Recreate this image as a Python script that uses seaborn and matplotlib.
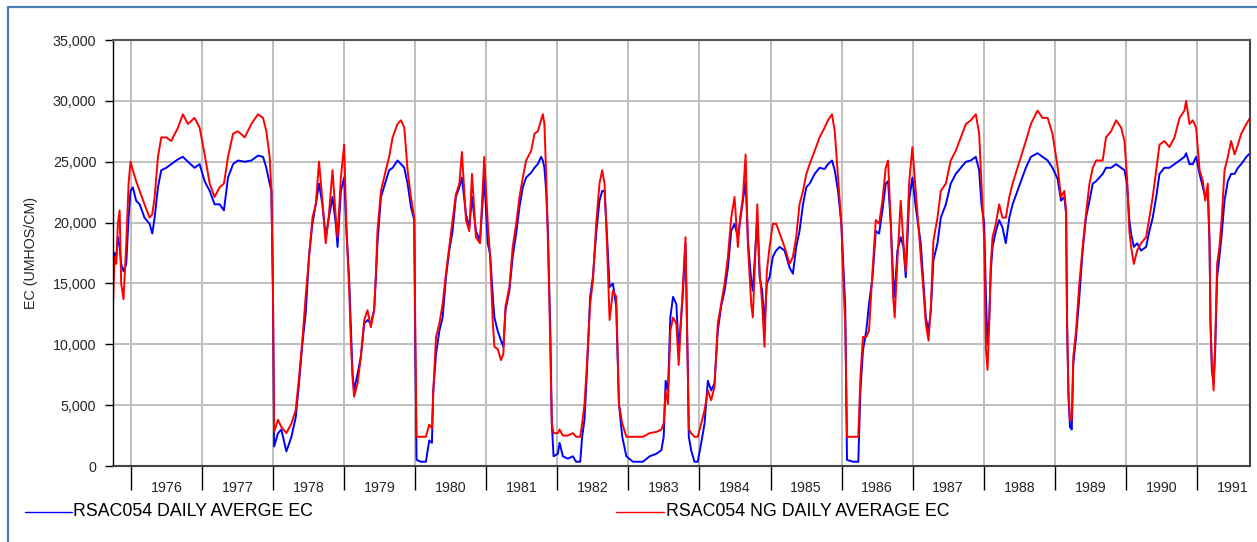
import matplotlib
matplotlib.use("Agg")
import matplotlib.pyplot as plt
import matplotlib.dates as mdates
from matplotlib.lines import Line2D
from matplotlib.ticker import MultipleLocator, FuncFormatter, FixedLocator
import pandas as pd
import seaborn as sns

# Sample dates shared by both series
dates = [
    "1975-10-01", "1975-10-09", "1975-10-18", "1975-10-26", "1975-11-04", "1975-11-12",
    "1975-11-24", "1975-12-08", "1975-12-20", "1975-12-30",
    "1976-01-11", "1976-01-28", "1976-02-15", "1976-03-11", "1976-04-06", "1976-04-20",
    "1976-05-02", "1976-05-19", "1976-06-05", "1976-07-01", "1976-07-26", "1976-08-30",
    "1976-09-24", "1976-10-20", "1976-11-23", "1976-12-19",
    "1977-01-14", "1977-02-09", "1977-03-06", "1977-04-01", "1977-04-23", "1977-05-14",
    "1977-06-09", "1977-07-04", "1977-08-08", "1977-09-11", "1977-10-15", "1977-11-10",
    "1977-11-27", "1977-12-14", "1977-12-23", "1977-12-31",
    "1978-01-06", "1978-01-26", "1978-02-12", "1978-03-10", "1978-04-05", "1978-04-27",
    "1978-05-14", "1978-05-31", "1978-06-17", "1978-07-05", "1978-07-22", "1978-08-08",
    "1978-08-25", "1978-09-11", "1978-09-28", "1978-10-12", "1978-11-02", "1978-11-19",
    "1978-11-28", "1978-12-15",
    "1979-01-01", "1979-01-13", "1979-01-27", "1979-02-04", "1979-02-13", "1979-02-21",
    "1979-03-11", "1979-03-28", "1979-04-14", "1979-05-01", "1979-05-18", "1979-06-04",
    "1979-06-13", "1979-06-21", "1979-07-09", "1979-08-03", "1979-08-20", "1979-09-07",
    "1979-10-02", "1979-10-20", "1979-11-06", "1979-11-23", "1979-12-10", "1979-12-27",
    "1980-01-01", "1980-01-08", "1980-01-30", "1980-02-25", "1980-03-13", "1980-03-27",
    "1980-04-03", "1980-04-17", "1980-05-04", "1980-05-21", "1980-06-07", "1980-06-24",
    "1980-07-11", "1980-07-28", "1980-08-15", "1980-08-28", "1980-09-18", "1980-10-05",
    "1980-10-19", "1980-11-08", "1980-11-29", "1980-12-21",
    "1981-01-08", "1981-01-20", "1981-02-03", "1981-02-11", "1981-02-28", "1981-03-17",
    "1981-03-29", "1981-04-09", "1981-04-29", "1981-05-16", "1981-06-03", "1981-06-20",
    "1981-07-07", "1981-07-24", "1981-08-19", "1981-09-05", "1981-09-22", "1981-10-09",
    "1981-10-18", "1981-10-26", "1981-11-04", "1981-11-13", "1981-11-21", "1981-11-26",
    "1981-12-03", "1981-12-12",
    "1982-01-03", "1982-01-12", "1982-01-29", "1982-02-23", "1982-03-21", "1982-04-07",
    "1982-04-28", "1982-05-08", "1982-05-20", "1982-06-01", "1982-06-18", "1982-07-02",
    "1982-07-19", "1982-08-05", "1982-08-19", "1982-08-31", "1982-09-12", "1982-09-26",
    "1982-10-13", "1982-10-30", "1982-11-13", "1982-11-30", "1982-12-21",
    "1983-01-24", "1983-03-16", "1983-04-20", "1983-05-24", "1983-06-19", "1983-07-01",
    "1983-07-11", "1983-07-23", "1983-08-04", "1983-08-18", "1983-09-04", "1983-09-16",
    "1983-10-07", "1983-10-21", "1983-11-02", "1983-11-07", "1983-11-19", "1983-12-06",
    "1983-12-23",
    "1984-01-10", "1984-01-27", "1984-02-13", "1984-03-01", "1984-03-18", "1984-04-04",
    "1984-04-21", "1984-05-09", "1984-05-26", "1984-06-12", "1984-06-29", "1984-07-16",
    "1984-07-28", "1984-08-11", "1984-08-25", "1984-09-06", "1984-09-23", "1984-10-01",
    "1984-10-15", "1984-10-24", "1984-11-05", "1984-11-18", "1984-11-30", "1984-12-12",
    "1984-12-26",
    "1985-01-12", "1985-01-29", "1985-02-16", "1985-03-13", "1985-04-08", "1985-04-25",
    "1985-05-12", "1985-05-29", "1985-06-16", "1985-07-03", "1985-07-20", "1985-08-15",
    "1985-09-09", "1985-10-05", "1985-10-22", "1985-11-12", "1985-11-26", "1985-12-13",
    "1985-12-30",
    "1986-01-11", "1986-01-19", "1986-01-28", "1986-02-28", "1986-03-27", "1986-04-07",
    "1986-04-20", "1986-05-07", "1986-05-21", "1986-06-08", "1986-06-25", "1986-07-12",
    "1986-07-29", "1986-08-15", "1986-08-27", "1986-09-10", "1986-09-22", "1986-09-30",
    "1986-10-14", "1986-10-31", "1986-11-14", "1986-11-26", "1986-12-13", "1986-12-30",
    "1987-01-16", "1987-02-11", "1987-02-25", "1987-03-09", "1987-03-23", "1987-04-04",
    "1987-04-17", "1987-05-08", "1987-05-25", "1987-06-20", "1987-07-15", "1987-08-10",
    "1987-09-05", "1987-10-01", "1987-10-26", "1987-11-21", "1987-12-08", "1987-12-20",
    "1988-01-03", "1988-01-12", "1988-01-20", "1988-01-29", "1988-02-06", "1988-02-15",
    "1988-03-03", "1988-03-20", "1988-04-06", "1988-04-23", "1988-05-11", "1988-05-28",
    "1988-06-22", "1988-07-10", "1988-08-04", "1988-08-30", "1988-10-03", "1988-10-29",
    "1988-11-24", "1988-12-19",
    "1989-01-14", "1989-02-01", "1989-02-18", "1989-02-27", "1989-03-04", "1989-03-11",
    "1989-03-19", "1989-03-28", "1989-04-05", "1989-04-19", "1989-05-06", "1989-05-23",
    "1989-06-09", "1989-06-27", "1989-07-14", "1989-07-31", "1989-08-17", "1989-09-03",
    "1989-09-20", "1989-10-16", "1989-11-11", "1989-12-07", "1989-12-24",
    "1990-01-06", "1990-01-18", "1990-01-27", "1990-02-10", "1990-02-27", "1990-03-19",
    "1990-04-14", "1990-05-01", "1990-05-18", "1990-06-05", "1990-06-22", "1990-07-17",
    "1990-08-12", "1990-09-07", "1990-10-03", "1990-10-28", "1990-11-06", "1990-11-23",
    "1990-12-10", "1990-12-27",
    "1991-01-14", "1991-01-31", "1991-02-12", "1991-02-25", "1991-03-06", "1991-03-11",
    "1991-03-18", "1991-03-27", "1991-04-04", "1991-04-14", "1991-04-26", "1991-05-08",
    "1991-05-22", "1991-06-08", "1991-06-25", "1991-07-13", "1991-07-30", "1991-08-16",
    "1991-09-11", "1991-09-30",
]

# RSAC054 daily average EC (umhos/cm)
daily_ec = [
    17000, 17500, 17200, 18800, 18000, 16600, 16000, 16600, 20400, 22600,
    22900, 21800, 21500, 20400, 19900, 19100, 20400, 22900, 24300, 24500, 24800, 25200,
    25400, 25000, 24500, 24800,
    23400, 22600, 21500, 21500, 21000, 23700, 24800, 25100, 25000, 25100, 25500, 25400,
    24500, 23200, 22600, 14400,
    1600, 2700, 3000, 1200, 2400, 4000, 6800, 10000, 12500, 17400, 19900, 21500,
    23200, 21500, 18800, 20200, 22100, 19900, 18000, 22600,
    23700, 19300, 15200, 11700, 7600, 6200, 7600, 9000, 11700, 12000, 11700, 12800,
    15500, 18300, 22100, 23400, 24300, 24500, 25100, 24800, 24500, 23200, 21300, 20200,
    10000, 500, 350, 350, 2100, 1900, 6200, 9200, 11100, 12200, 15500, 17700,
    19300, 22100, 22900, 23700, 20700, 19600, 22100, 19300, 18500, 23700,
    18300, 17400, 13900, 12200, 11100, 10300, 9800, 12800, 14400, 17200, 19100, 21300,
    22900, 23700, 24100, 24500, 24800, 25400, 25100, 24500, 22600, 19300, 13900, 10600,
    3500, 800,
    1000, 1900, 800, 600, 800, 350, 350, 2400, 3800, 7600, 13900, 15500,
    19100, 21800, 22600, 22600, 19100, 14700, 15000, 13100, 5100, 2400, 800,
    350, 350, 800, 1000, 1300, 2400, 7000, 6200, 12200, 13900, 13300, 9500,
    14000, 18300, 8000, 2400, 1300, 350, 350,
    1900, 3500, 7000, 6200, 6800, 11100, 13100, 14400, 16300, 19300, 19900, 18800,
    20200, 21800, 23400, 18500, 15200, 14400, 18000, 20400, 15500, 14400, 11700, 15000,
    15500,
    17200, 17700, 18000, 17700, 16300, 15800, 18000, 19300, 21500, 22900, 23200, 24000,
    24500, 24400, 24800, 25100, 24300, 22600, 19900,
    15800, 13100, 500, 350, 350, 6200, 9500, 11100, 13300, 15500, 19300, 19100,
    21000, 23200, 23400, 19900, 15500, 13900, 17700, 18800, 18000, 15500, 21800, 23700,
    21300, 18300, 15000, 12200, 11100, 12800, 16900, 18300, 20400, 21500, 23200, 24000,
    24500, 25000, 25100, 25400, 24300, 21500,
    19900, 13900, 10000, 12200, 16000, 18000, 19300, 20200, 19600, 18300, 20400, 21500,
    22600, 23400, 24500, 25400, 25700, 25400, 25100, 24500,
    23600, 21800, 22100, 20700, 11700, 5700, 3200, 3000, 8400, 10600, 13900, 17700,
    20400, 21800, 23200, 23400, 23700, 24000, 24500, 24500, 24800, 24500, 24300,
    23200, 20200, 19100, 18000, 18300, 17700, 18000, 19300, 20400, 22100, 24000, 24500,
    24500, 24800, 25100, 25400, 25700, 24800, 24800, 25400,
    24000, 22900, 22100, 22600, 18300, 11700, 7900, 6800, 9500, 15500, 17200, 19100,
    21800, 23400, 24000, 24000, 24500, 24800, 25400, 25700,
]

# RSAC054 NG daily average EC (umhos/cm)
ng_daily_ec = [
    13300, 17200, 16600, 19900, 21000, 15000, 13700, 18200, 23200, 25000,
    24300, 23400, 22600, 21500, 20400, 20700, 22100, 25400, 27000, 27000, 26700, 27800,
    28900, 28100, 28600, 27800,
    25600, 23200, 22100, 22900, 23200, 25400, 27300, 27500, 27000, 28100, 28900, 28600,
    27500, 25400, 22600, 14400,
    2800, 3800, 3200, 2700, 3500, 4600, 7300, 10300, 13900, 17200, 20400, 21500,
    25000, 21800, 18300, 20200, 24300, 20400, 18800, 23700,
    26400, 19300, 14400, 10300, 7300, 5700, 6800, 9000, 12000, 12800, 11400, 12800,
    15800, 19300, 22600, 24300, 25400, 27000, 28100, 28400, 27800, 24300, 22100, 20400,
    12000, 2400, 2400, 2400, 3400, 3100, 6200, 10600, 11700, 13300, 15800, 18000,
    20200, 22300, 23200, 25800, 20200, 19300, 24000, 18800, 18300, 25400,
    19900, 17200, 11700, 9800, 9600, 8700, 9200, 13100, 14700, 18000, 19900, 22100,
    23700, 25100, 25900, 27300, 27500, 28400, 28900, 28100, 24000, 18500, 13100, 9000,
    3500, 2700,
    2700, 3000, 2500, 2500, 2700, 2400, 2400, 3500, 5100, 8200, 13300, 15200,
    19900, 23200, 24300, 23200, 18500, 12000, 14400, 13900, 5100, 3500, 2400,
    2400, 2400, 2700, 2800, 3000, 3500, 6200, 5100, 11100, 12200, 11700, 8300,
    14700, 18800, 8000, 3000, 2700, 2400, 2400,
    3500, 4600, 6200, 5400, 6500, 11700, 13300, 15000, 17200, 20400, 22100, 18000,
    20400, 22100, 25600, 18000, 13300, 12200, 18000, 21500, 16000, 13300, 9800, 16000,
    18000,
    19900, 19900, 19100, 18000, 16600, 17200, 18800, 21500, 22600, 24000, 24800, 25900,
    27000, 27800, 28400, 28900, 27500, 23700, 19900,
    14400, 11700, 2400, 2400, 2400, 7300, 10600, 10600, 11100, 16000, 20200, 19900,
    21800, 24500, 25100, 19900, 13900, 12200, 16900, 21800, 18300, 16000, 23200, 26200,
    22600, 17200, 14400, 11700, 10300, 13100, 18500, 20400, 22600, 23200, 25100, 25900,
    27000, 28100, 28400, 28900, 27300, 23200,
    18500, 9600, 7900, 11700, 16600, 18800, 19900, 21500, 20400, 20400, 22100, 23200,
    24500, 25400, 26700, 28100, 29200, 28600, 28600, 27300,
    24600, 22100, 22600, 21000, 11700, 6200, 3800, 3800, 9000, 11100, 15000, 18000,
    20700, 23200, 24500, 25100, 25100, 25100, 27000, 27500, 28400, 27800, 26700,
    23700, 19300, 18000, 16600, 17700, 18300, 18800, 20400, 22100, 24300, 26400, 26700,
    26200, 27000, 28600, 29200, 30000, 28100, 28400, 27800,
    24300, 23400, 21800, 23200, 18500, 11700, 8400, 6200, 10000, 16600, 18000, 20400,
    24300, 25400, 26700, 25600, 26400, 27300, 28100, 28600,
]

series_names = ["RSAC054 DAILY AVERGE EC", "RSAC054 NG DAILY AVERAGE EC"]
series_colors = ["#0000FF", "#FF0000"]
year_labels = ["1976", "1977", "1978", "1979", "1980", "1981", "1982", "1983",
               "1984", "1985", "1986", "1987", "1988", "1989", "1990", "1991"]
y_label = "EC (UMHOS/CM)"

W, H = 1257, 542
sns.set_style("white")
plt.rcParams["font.family"] = ["Liberation Sans", "DejaVu Sans"]

fig = plt.figure(figsize=(W / 100, H / 100), dpi=100)
ax = fig.add_axes([113 / W, 1 - 466 / H, (1250 - 113) / W, (466 - 40) / H])

frames = []
for name, values in zip(series_names, [daily_ec, ng_daily_ec]):
    frames.append(pd.DataFrame({"date": pd.to_datetime(dates), "ec": values, "series": name}))
df = pd.concat(frames, ignore_index=True)

sns.lineplot(data=df, x="date", y="ec", hue="series", hue_order=series_names,
             palette=series_colors, estimator=None, linewidth=1.4, legend=False, ax=ax)

ax.set_xlim(pd.Timestamp("1975-10-01"), pd.Timestamp("1991-09-30"))
ax.set_ylim(0, 35000)

# Y axis
ax.yaxis.set_major_locator(MultipleLocator(5000))
ax.yaxis.set_major_formatter(FuncFormatter(lambda v, p: f"{int(v):,}"))
ax.tick_params(axis="y", which="major", direction="out", length=6, width=1,
               color="black", labelsize=10.3, pad=6, left=True)
ax.set_ylabel(y_label, fontsize=10.3)
ax.yaxis.set_label_coords(-0.066, 0.5)

# X axis: boundaries at the start of each year, labels centred within the year
years = [int(y) for y in year_labels]
ax.xaxis.set_major_locator(FixedLocator([mdates.date2num(pd.Timestamp(f"{y}-01-01")) for y in years]))
ax.xaxis.set_major_formatter(FuncFormatter(lambda v, p: ""))
ax.xaxis.set_minor_locator(FixedLocator([mdates.date2num(pd.Timestamp(f"{y}-07-02")) for y in years]))
ax.xaxis.set_minor_formatter(FuncFormatter(
    lambda v, p: year_labels[p] if p is not None and p < len(year_labels) else ""))
ax.tick_params(axis="x", which="major", direction="out", length=17, width=1,
               color="black", bottom=True)
ax.tick_params(axis="x", which="minor", length=0, labelsize=10.3, pad=11, bottom=True)
ax.set_xlabel("")

ax.grid(True, which="major", axis="both", color="#BFBFBF", linewidth=1.4)
ax.set_axisbelow(True)

for side, col, lw in [("top", "#555555", 1.5), ("left", "#000000", 1.0),
                      ("bottom", "#444444", 1.5), ("right", "#444444", 1.5)]:
    ax.spines[side].set_visible(True)
    ax.spines[side].set_color(col)
    ax.spines[side].set_linewidth(lw)

# Legend row beneath the axis
leg_y = 1 - 512 / H
for (x0, x1, tx), name, col in zip([(25, 72, 73), (616, 664, 666)], series_names, series_colors):
    fig.add_artist(Line2D([x0 / W, x1 / W], [leg_y, leg_y], color=col, linewidth=1.0))
    fig.text(tx / W, leg_y, name, fontsize=12.8, va="center", ha="left", color="black")

# Outer frame
frame_col = "#4A7EBB"
fig.add_artist(Line2D([8 / W, 1.0], [1 - 7 / H, 1 - 7 / H], color=frame_col, linewidth=1.6))
fig.add_artist(Line2D([8 / W, 8 / W], [0, 1 - 7 / H], color=frame_col, linewidth=1.6))

fig.savefig("out.png", dpi=100, facecolor="white")
